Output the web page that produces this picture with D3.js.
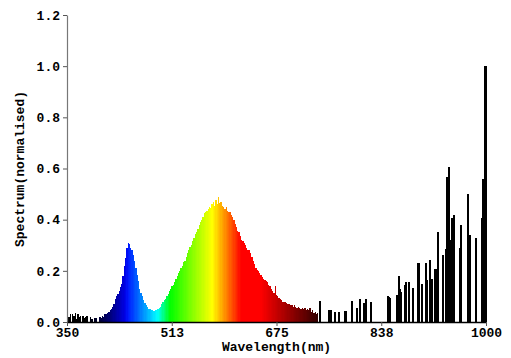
<!DOCTYPE html>
<html><head><meta charset="utf-8">
<script src="https://cdn.jsdelivr.net/npm/d3@7"></script>
<style>body{margin:0;background:#fff}svg{display:block}</style>
</head><body><svg id="c" width="511" height="358"></svg>
<script>
// ---- data ----
const visStart = 350, visStep = 2;
const visValues = [
 0.035,0.02,0.03,0,0.03,0.025,0.035,0.01,0.03,0.02,0.025,0,0.025,0.015,0.02,0.025,0,0,0.02,0.01,0,0.015,0.015,0,0,
 0.02,0.015,0.025,0.02,0.03,0.03,0.035,0.04,0.045,0.05,
 0.06,0.07,0.09,0.10,0.11,0.12,0.135,0.15,0.18,0.22,
 0.25,0.29,0.31,0.305,0.29,0.28,0.26,0.24,0.21,0.185,
 0.16,0.13,0.115,0.10,0.085,0.075,0.065,0.06,0.05,0.05,
 0.047,0.045,0.043,0.045,0.048,0.05,0.055,0.06,0.07,0.08,
 0.085,0.09,0.10,0.11,0.12,0.13,0.14,0.145,0.155,0.17,
 0.18,0.19,0.20,0.21,0.22,0.235,0.24,0.255,0.27,0.28,
 0.295,0.30,0.315,0.33,0.345,0.35,0.365,0.38,0.39,0.40,
 0.41,0.425,0.43,0.435,0.44,0.45,0.445,0.46,0.47,0.455,
 0.475,0.46,0.49,0.465,0.47,0.455,0.45,0.44,0.45,0.435,
 0.43,0.43,0.42,0.41,0.40,0.385,0.37,0.355,0.35,0.335,
 0.32,0.315,0.31,0.30,0.29,0.28,0.28,0.27,0.255,0.24,
 0.225,0.21,0.205,0.20,0.19,0.185,0.175,0.17,0.165,0.16,
 0.155,0.145,0.14,0.13,0.12,0.115,0.14,0.105,0.10,0.095,
 0.09,0.085,0.08,0.078,0.08,0.075,0.07,0.07,0.065,0.065,
 0.06,0.065,0.06,0.055,0.06,0.055,0.05,0.055,0.05,0.055,
 0.045,0.05,0.045,0.055,0.04,0.045,0.035,0.04,0.03,0.035
];
const lineWavelengths = [742.5,756.5,759.6,765.8,772,781.3,782.8,792.1,799.9,804.5,810.7,813.9,821.6,
 848,849.5,851,862,865,866.6,868.1,874.4,875.9,880.6,886.8,894.5,896,900.7,906.9,908.5,913.1,916.2,
 920.9,922.4,925.5,933.3,937.9,939.5,942.6,944.2,947.3,950.4,959.7,961.2,972.1,975.2,984.5,993.8,
 995.4,996.9,998.5,999.6];
const lineValues = [0.082,0.047,0.045,0.04,0.04,0.043,0.043,0.082,0.053,0.09,0.073,0.09,0.08,
 0.10,0.098,0.095,0.105,0.18,0.13,0.117,0.145,0.157,0.157,0.133,0.23,0.23,0.148,0.23,0.164,0.242,0.17,
 0.207,0.207,0.35,0.26,0.285,0.567,0.606,0.32,0.405,0.42,0.29,0.38,0.50,0.34,0.33,0.405,
 0.56,0.56,1.0,1.0];
const xTicks = [350, 512.5, 675, 837.5, 1000];
const xTickLabels = ["350","513","675","838","1000"];
const yTicks = [0, 0.2, 0.4, 0.6, 0.8, 1.0, 1.2];
const yTickLabels = ["0.0","0.2","0.4","0.6","0.8","1.0","1.2"];
const xTitle = "Wavelength(nm)";
const yTitle = "Spectrum(normalised)";

// ---- layout ----
const W = 511, H = 358;
const m = {l:67, r:25, t:15, b:36};
const svg = d3.select("#c");
const x = d3.scaleLinear().domain([350,1000]).range([m.l, W-m.r]);
const y = d3.scaleLinear().domain([0,1.2]).range([H-m.b, m.t]);
const FONT = "'Liberation Mono','Courier New',monospace";

function wlColor(w){
  let r=0,g=0,b=0;
  if (w < 440){ r=0; g=0; b=1; }
  else if (w < 490){ r=0; g=(w-440)/50; b=1; }
  else if (w < 510){ r=0; g=1; b=(510-w)/20; }
  else if (w < 575){ r=(w-510)/65; g=1; b=0; }
  else if (w < 620){ r=1; g=(620-w)/45; b=0; }
  else { r=1; g=0; b=0; }
  let f = 1;
  if (w < 380) f = 0;
  else if (w < 445) f = Math.pow((w-380)/65, 1.3);
  else if (w > 650) f = Math.max(0, 1 - (w-650)*0.009);
  if (w > 740) f = 0;
  return d3.rgb(Math.round(255*r*f), Math.round(255*g*f), Math.round(255*b*f)).toString();
}

const vis = visValues.map((v,i)=>({w: visStart + i*visStep, v}));
svg.append("g").attr("shape-rendering","crispEdges")
  .selectAll("rect").data(vis).join("rect")
  .attr("x", d=>x(d.w))
  .attr("width", d=>x(d.w+visStep)-x(d.w))
  .attr("y", d=>y(d.v))
  .attr("height", d=>y(0)-y(d.v))
  .attr("fill", d=>wlColor(d.w+visStep/2));

const lines = lineWavelengths.map((w,i)=>({w, v: lineValues[i]}));
svg.append("g").attr("shape-rendering","crispEdges")
  .selectAll("rect").data(lines).join("rect")
  .attr("x", d=>x(d.w)-0.75)
  .attr("width", 1.6)
  .attr("y", d=>y(d.v))
  .attr("height", d=>y(0)-y(d.v))
  .attr("fill", d=>wlColor(d.w));

// axes
const gy = svg.append("g").attr("transform",`translate(${m.l},0)`)
  .call(d3.axisLeft(y).tickValues(yTicks).tickFormat((d,i)=>yTickLabels[i]).tickSize(4).tickSizeOuter(0).tickPadding(3));
gy.select(".domain").attr("stroke","#777").attr("stroke-width",1.2);
gy.selectAll(".tick line").attr("stroke","#555");
gy.selectAll("text").attr("font-family",FONT).attr("font-weight","bold").attr("font-size",13).attr("fill","#000");

const gx = svg.append("g").attr("transform",`translate(0,${H-m.b})`)
  .call(d3.axisBottom(x).tickValues(xTicks).tickFormat((d,i)=>xTickLabels[i]).tickSize(4).tickSizeOuter(0).tickPadding(2));
gx.select(".domain").attr("stroke","#000").attr("stroke-width",1.5);
gx.selectAll(".tick line").attr("stroke","#555");
gx.selectAll("text").attr("font-family",FONT).attr("font-weight","bold").attr("font-size",13).attr("fill","#000");

svg.append("text").attr("x", (m.l + W - m.r)/2).attr("y", 351)
  .attr("text-anchor","middle").attr("font-family",FONT).attr("font-weight","bold").attr("font-size",13)
  .text(xTitle);
svg.append("text").attr("transform","translate(24,169) rotate(-90)")
  .attr("text-anchor","middle").attr("font-family",FONT).attr("font-weight","bold").attr("font-size",13)
  .text(yTitle);
</script></body></html>
